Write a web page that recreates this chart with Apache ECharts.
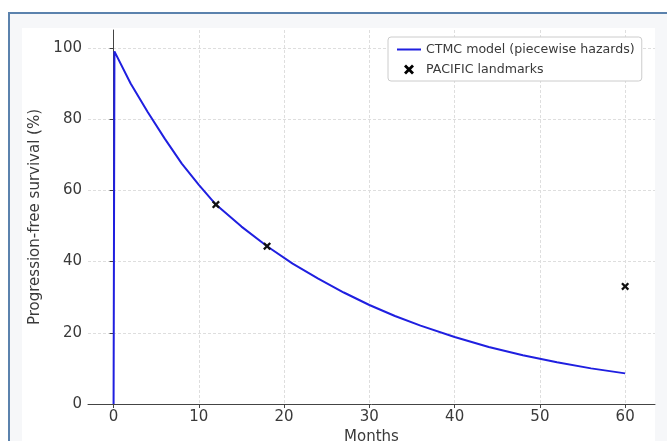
<!DOCTYPE html>
<html>
<head>
<meta charset="utf-8">
<script src="https://cdn.jsdelivr.net/npm/echarts@6/dist/echarts.min.js"></script>
<style>
  html, body { margin: 0; padding: 0; background: #fff; }
  #frame { position: absolute; left: 8px; top: 12px; width: 659px; height: 429px;
           border-left: 2px solid #5b82ad; border-top: 2px solid #5b82ad; background: #f6f7f9; }
  #paper { position: absolute; left: 22px; top: 28px; width: 633px; height: 413px; background: #fff; }
  #main { position: absolute; left: 0; top: 0; width: 667px; height: 441px; }
</style>
</head>
<body>
<div id="frame"></div>
<div id="paper"></div>
<div id="main"></div>
<script>
// 模型曲线
var months = [0, 0.1, 2, 4, 6, 8, 10, 12, 15, 18, 21, 24, 27, 30, 33, 36, 40, 44, 48, 52, 56, 60];
var pfs    = [0, 99, 90, 82, 74.5, 67.5, 61.5, 56, 49.8, 44.3, 39.4, 35.2, 31.3, 27.8, 24.7, 22, 18.8, 16, 13.7, 11.7, 10, 8.6];
// PACIFIC 标志点
var landmarkMonths = [12, 18, 60];
var landmarkPfs    = [56, 44.3, 33];
var xTicks = [0, 10, 20, 30, 40, 50, 60];
var yTicks = [0, 20, 40, 60, 80, 100];

var curve = [];
for (var i = 0; i < months.length; i++) {
    curve.push([months[i], pfs[i]]);
}
var marks = [];
for (var i = 0; i < landmarkMonths.length; i++) {
    marks.push([landmarkMonths[i], landmarkPfs[i]]);
}

var font = 'DejaVu Sans';
var textColor = '#3a3a3a';
var cross = 'path://M0,2 L2,0 L5,3 L8,0 L10,2 L7,5 L10,8 L8,10 L5,7 L2,10 L0,8 L3,5 Z';
// 图例图标（用角上的小点撑开包围盒）
var lineIcon = 'path://M0,0 L0.01,0 M0,5 L24,5 L24,7 L0,7 Z M23.99,12 L24,12';
var crossIcon = 'path://M-7,-1 L-6.99,-1 M0,2 L2,0 L5,3 L8,0 L10,2 L7,5 L10,8 L8,10 L5,7 L2,10 L0,8 L3,5 Z M16.99,11 L17,11';

var myChart = echarts.init(document.getElementById('main'));
myChart.setOption({
    animation: false,
    backgroundColor: 'transparent',
    grid: { left: 88, right: 12, top: 30, bottom: 37, outerBoundsMode: 'none' },
    legend: {
        orient: 'vertical',
        left: 388, top: 37,
        padding: [6, 7, 5, 9],
        itemGap: 7,
        itemWidth: 24,
        itemHeight: 12,
        backgroundColor: '#fff',
        borderColor: '#cccccc',
        borderWidth: 1,
        borderRadius: 3,
        textStyle: { fontFamily: font, fontSize: 12.6, color: textColor },
        data: [
            { name: 'CTMC model (piecewise hazards)', icon: lineIcon, itemStyle: { color: '#1f1fe0' } },
            { name: 'PACIFIC landmarks', icon: crossIcon, itemStyle: { color: '#000' } }
        ]
    },
    xAxis: {
        type: 'value',
        min: -3, max: 63.5,
        name: 'Months',
        nameLocation: 'middle',
        nameGap: 22,
        nameTextStyle: { fontFamily: font, fontSize: 15, color: textColor },
        axisLine: { onZero: false, lineStyle: { color: '#444', width: 1 } },
        axisTick: { show: true, length: 4, customValues: xTicks, lineStyle: { color: '#444' } },
        axisLabel: { customValues: xTicks, margin: 6, fontFamily: font, fontSize: 15, color: textColor },
        splitLine: { show: true, lineStyle: { color: '#dedede', type: [3, 2], width: 1 } }
    },
    yAxis: {
        type: 'value',
        min: 0, max: 105,
        name: 'Progression-free survival (%)',
        nameLocation: 'middle',
        nameGap: 41,
        nameTextStyle: { fontFamily: font, fontSize: 15, color: textColor },
        axisLine: { show: true, lineStyle: { color: '#444', width: 1 } },
        axisTick: { show: true, length: 4, customValues: yTicks, lineStyle: { color: '#444' } },
        axisLabel: { customValues: yTicks, margin: 6, fontFamily: font, fontSize: 15, color: textColor },
        splitLine: { show: true, lineStyle: { color: '#dedede', type: [3, 2], width: 1 } }
    },
    series: [
        {
            name: 'CTMC model (piecewise hazards)',
            type: 'line',
            symbol: 'none',
            color: '#1f1fe0',
            lineStyle: { width: 2, color: '#1f1fe0' },
            data: curve,
            z: 2
        },
        {
            name: 'PACIFIC landmarks',
            type: 'scatter',
            symbol: cross,
            symbolSize: 8,
            itemStyle: { color: '#111', opacity: 1 },
            data: marks,
            z: 3
        }
    ]
});
</script>
</body>
</html>
